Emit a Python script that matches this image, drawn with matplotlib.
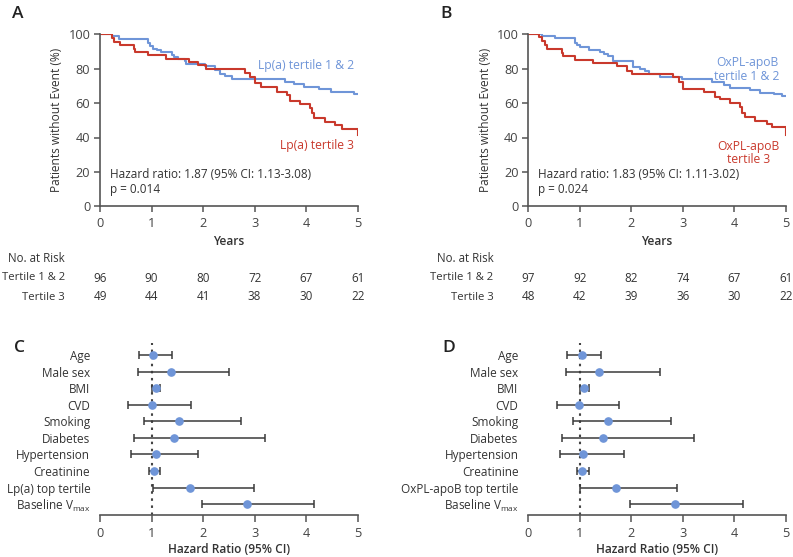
import numpy as np
import matplotlib
matplotlib.use('Agg')
import matplotlib.pyplot as plt
from matplotlib.transforms import blended_transform_factory

plt.rcParams['font.family'] = 'Open Sans'
plt.rcParams['mathtext.fontset'] = 'custom'
plt.rcParams['mathtext.rm'] = 'Open Sans'
plt.rcParams['mathtext.it'] = 'Open Sans:italic'
plt.rcParams['mathtext.default'] = 'regular'

BLUE = '#6f95d8'
RED = '#c9392c'
DARK = '#3a3a3a'
TXT = '#333333'

# ---- Kaplan-Meier data ----
a_blue_t = [0, 0.24, 0.36, 0.93, 0.97, 1.02, 1.10, 1.18, 1.40, 1.44, 1.52, 1.64, 1.66,
            2.04, 2.23, 2.33, 2.42, 2.56, 3.58, 3.77, 3.95, 4.24, 4.49, 4.92, 5.0]
a_blue_s = [100, 98.8, 97, 95, 93, 91.6, 90.7, 89.5, 88, 87, 85.8, 84.3, 83,
            81.4, 79, 77, 76, 74, 72.5, 71, 69.4, 68, 66.6, 65.3, 65.3]
a_red_t = [0, 0.23, 0.27, 0.39, 0.65, 0.68, 0.93, 1.28, 1.73, 1.90, 2.05, 2.82, 2.91,
           3.0, 3.13, 3.43, 3.62, 3.69, 3.88, 4.08, 4.12, 4.16, 4.37, 4.56, 4.69, 5.0]
a_red_s = [100, 97.9, 95.5, 94, 91.6, 89.7, 87.8, 85.6, 83.9, 82, 79.6, 77.3, 75,
           71.5, 69.2, 66.6, 64.7, 61.2, 59.3, 57.3, 54, 51.5, 49.2, 47.3, 44.9, 41.4]

b_blue_t = [0, 0.26, 0.52, 0.91, 0.94, 1.0, 1.17, 1.39, 1.46, 1.55, 1.65, 2.04, 2.17,
            2.27, 2.35, 2.56, 2.98, 3.56, 3.79, 3.92, 4.3, 4.5, 4.76, 4.92, 5.0]
b_blue_s = [100, 98.8, 97.8, 95, 93.6, 92.4, 91, 89.7, 88.5, 87.2, 84.3, 81.2, 79.8,
            78.7, 77.1, 75, 74, 72.5, 70.5, 69, 67.6, 66, 65.1, 64.1, 64.1]
b_red_t = [0, 0.21, 0.26, 0.32, 0.36, 0.65, 0.68, 0.91, 1.26, 1.72, 1.91, 2.02, 2.80,
           2.92, 3.0, 3.4, 3.63, 3.72, 3.92, 4.11, 4.15, 4.21, 4.40, 4.63, 4.73, 5.0]
b_red_s = [100, 98.3, 96, 94, 91.5, 89.1, 87.2, 85.2, 83.3, 81.4, 78.8, 76.9, 75,
           72, 68.4, 66.6, 63.7, 62.2, 59.9, 57.6, 54.1, 52.1, 49.8, 47.7, 45.9, 41.4]

risk_years = [0, 1, 2, 3, 4, 5]
a_risk_12 = [96, 90, 80, 72, 67, 61]
a_risk_3 = [49, 44, 41, 38, 30, 22]
b_risk_12 = [97, 92, 82, 74, 67, 61]
b_risk_3 = [48, 42, 39, 36, 30, 22]

# ---- Forest plot data ----
c_labels = ['Age', 'Male sex', 'BMI', 'CVD', 'Smoking', 'Diabetes', 'Hypertension',
            'Creatinine', 'Lp(a) top tertile', 'Baseline V$_{max}$']
c_hr = [1.03, 1.37, 1.09, 1.00, 1.53, 1.44, 1.08, 1.05, 1.75, 2.86]
c_lo = [0.76, 0.74, 1.00, 0.55, 0.86, 0.65, 0.61, 0.95, 1.02, 1.97]
c_hi = [1.40, 2.51, 1.16, 1.77, 2.73, 3.21, 1.90, 1.16, 2.99, 4.16]

d_labels = ['Age', 'Male sex', 'BMI', 'CVD', 'Smoking', 'Diabetes', 'Hypertension',
            'Creatinine', 'OxPL-apoB top tertile', 'Baseline V$_{max}$']
d_hr = [1.04, 1.38, 1.08, 0.98, 1.55, 1.44, 1.06, 1.05, 1.70, 2.85]
d_lo = [0.76, 0.74, 1.00, 0.55, 0.87, 0.65, 0.62, 0.95, 1.00, 1.97]
d_hi = [1.41, 2.55, 1.17, 1.76, 2.76, 3.21, 1.85, 1.17, 2.89, 4.16]

W, H = 793, 557
fig = plt.figure(figsize=(W / 100, H / 100), dpi=100)


def style_axes(ax):
    for s in ['top', 'right']:
        ax.spines[s].set_visible(False)
    for s in ['left', 'bottom']:
        ax.spines[s].set_color('#555555')
        ax.spines[s].set_linewidth(1.2)
    ax.tick_params(direction='out', length=4.5, width=1.1, color='#555555',
                   labelsize=9.2, labelcolor='#444444', pad=2.5)


def km_panel(left, letter, bt, bs, rt, rs, hr_text, p_text, lab12, lab3, risk12, risk3):
    ax = fig.add_axes([left / W, 1 - 206.3 / H, 257.7 / W, 172 / H])
    ax.plot(bt, bs, drawstyle='steps-post', color=BLUE, lw=1.5)
    ax.plot(rt, rs, drawstyle='steps-post', color=RED, lw=1.5)
    ax.set_xlim(0, 5)
    ax.set_ylim(0, 100)
    ax.set_xticks(range(6))
    ax.set_yticks(range(0, 101, 20))
    style_axes(ax)
    ax.tick_params(axis='x', pad=3.5)
    ax.text(-0.167, 0.5, 'Patients without Event (%)', transform=ax.transAxes,
            rotation=90, ha='center', va='center', fontsize=8.6, color=TXT)
    ax.text(0.5, -0.202, 'Years', transform=ax.transAxes, ha='center', va='center',
            fontsize=8.6, color=TXT, fontweight='semibold')
    ax.text(0.19, 18.2, hr_text, fontsize=8.5, color=TXT, va='center')
    ax.text(0.19, 9.5, p_text, fontsize=8.5, color=TXT, va='center')
    ax.text(lab12[0], lab12[1], lab12[2], color=BLUE, fontsize=8.7, ha='right',
            va='center', multialignment='center', linespacing=1.05)
    ax.text(lab3[0], lab3[1], lab3[2], color=RED, fontsize=8.7, ha='right',
            va='center', multialignment='center', linespacing=1.05)
    fig.text((left - 88) / W, 1 - 14 / H, letter, fontsize=12.5, fontweight='semibold',
             color='#222222', va='center', ha='left')

    # number at risk table
    tr = blended_transform_factory(ax.transData, fig.transFigure)
    lab_x = (left - 35) / W
    fig.text(lab_x, 1 - 259 / H, 'No. at Risk', ha='right', va='center', fontsize=8.3, color=TXT)
    fig.text(lab_x, 1 - 278 / H, 'Tertile 1 & 2', ha='right', va='center', fontsize=8.1, color=TXT)
    fig.text(lab_x, 1 - 297 / H, 'Tertile 3', ha='right', va='center', fontsize=8.1, color=TXT)
    for yr, n1, n3 in zip(risk_years, risk12, risk3):
        ax.text(yr, 1 - 278 / H, str(n1), transform=tr, ha='center', va='center',
                fontsize=8.4, color=TXT)
        ax.text(yr, 1 - 297 / H, str(n3), transform=tr, ha='center', va='center',
                fontsize=8.4, color=TXT)
    return ax


def forest_panel(left, letter, labels, hr, lo, hi):
    ax = fig.add_axes([left / W, 1 - 515 / H, 257.7 / W, 172.3 / H])
    y = np.arange(len(labels))
    hr = np.array(hr)
    xerr = [hr - np.array(lo), np.array(hi) - hr]
    ax.axvline(1, color='#444444', ls=(0, (1.2, 2.2)), lw=1.5, zorder=1)
    ax.errorbar(hr, y, xerr=xerr, fmt='none', ecolor=DARK, elinewidth=1.1,
                capsize=2.6, capthick=1.1, zorder=2)
    ax.plot(hr, y, 'o', color=BLUE, markersize=5.2, zorder=3)
    ax.set_xlim(0, 5)
    ax.set_ylim(len(labels) - 1 + 0.66, -0.75)
    ax.set_xticks(range(6))
    ax.set_yticks(y)
    ax.set_yticklabels(labels)
    style_axes(ax)
    ax.spines['left'].set_visible(False)
    ax.tick_params(axis='y', length=0, pad=7, labelsize=8.5, labelcolor=TXT)
    ax.tick_params(axis='x', length=5, pad=3.5)
    ax.text(0.5, -0.203, 'Hazard Ratio (95% CI)', transform=ax.transAxes, ha='center',
            va='center', fontsize=8.6, color=TXT, fontweight='semibold')
    fig.text((left - 86) / W, 1 - 348 / H, letter, fontsize=12.5, fontweight='semibold',
             color='#222222', va='center', ha='left')
    return ax


km_panel(100, 'A', a_blue_t, a_blue_s, a_red_t, a_red_s,
         'Hazard ratio: 1.87 (95% CI: 1.13-3.08)', 'p = 0.014',
         (4.93, 81.6, 'Lp(a) tertile 1 & 2'), (4.93, 35.6, 'Lp(a) tertile 3'),
         a_risk_12, a_risk_3)
km_panel(528.3, 'B', b_blue_t, b_blue_s, b_red_t, b_red_s,
         'Hazard ratio: 1.83 (95% CI: 1.11-3.02)', 'p = 0.024',
         (4.88, 79.5, 'OxPL-apoB\ntertile 1 & 2'), (4.88, 31.0, 'OxPL-apoB\ntertile 3'),
         b_risk_12, b_risk_3)
forest_panel(100, 'C', c_labels, c_hr, c_lo, c_hi)
forest_panel(528.3, 'D', d_labels, d_hr, d_lo, d_hi)

fig.savefig('out.png', dpi=100)
